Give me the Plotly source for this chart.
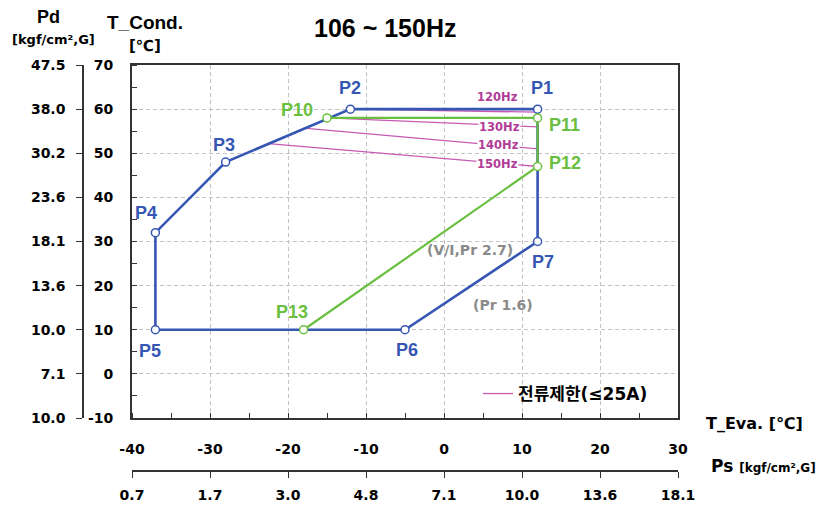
import plotly.graph_objects as go

# ---------------- data ----------------
t_cond_ticks = [-10, 0, 10, 20, 30, 40, 50, 60, 70]
pd_labels = ["10.0", "7.1", "10.0", "13.6", "18.1", "23.6", "30.2", "38.0", "47.5"]
t_eva_ticks = [-40, -30, -20, -10, 0, 10, 20, 30]
ps_labels = ["0.7", "1.7", "3.0", "4.8", "7.1", "10.0", "13.6", "18.1"]

blue_names = ["P1", "P2", "P3", "P4", "P5", "P6", "P7"]
blue_x = [12, -12, -28, -37, -37, -5, 12]
blue_y = [60, 60, 48, 32, 10, 10, 30]

green_names = ["P10", "P11", "P12", "P13"]
green_x = [-15, 12, 12, -18]
green_y = [58, 58, 47, 10]

hz_names = ["120Hz", "130Hz", "140Hz", "150Hz"]
hz_x0 = [-12, -15, -18, -22.5]
hz_y0 = [60, 58, 55.7, 52.2]
hz_x1 = [12, 12, 12, 12]
hz_y1 = [59.3, 56, 51, 47]

notes = ["(V/I,Pr 2.7)", "(Pr 1.6)"]
notes_x = [3.3, 7.5]
notes_y = [28, 15.5]

legend_name = "전류제한(≤25A)"

# ---------------- style ----------------
W, H = 830, 510
L, R, T, B = 20, 152, 65, 10
BLUE = "#3656b4"
GREEN = "#6abf40"
MAG = "#c85ab4"
MAGT = "#b03c98"
GRAY = "#8a8a8a"
AX = "#333333"
TF = dict(family="DejaVu Sans", size=14, color="black", weight="bold")
LF = "Liberation Sans, Arial, sans-serif"


def px(x):
    return (x - L) / (W - L - R)


def py(y):
    return (H - B - y) / (H - T - B)


label_shift = {
    "P1": (4, 21), "P2": (0, 21), "P3": (-2, 17), "P4": (-9, 20),
    "P5": (-5, -21), "P6": (2, -20), "P7": (5, -20),
    "P10": (-30, 8), "P11": (27, -7), "P12": (27, 3), "P13": (-12, 18),
}
hz_shift = [(-40, 15), (-38, 0), (-39, 4), (-40, 2)]

fig = go.Figure()

# current-limit lines (magenta)
for i, name in enumerate(hz_names):
    fig.add_trace(go.Scatter(
        x=[hz_x0[i], hz_x1[i]], y=[hz_y0[i], hz_y1[i]], mode="lines",
        line=dict(color=MAG, width=1.3), name=legend_name,
        showlegend=(i == 0), hoverinfo="skip"))

# blue envelope
fig.add_trace(go.Scatter(
    x=blue_x + [blue_x[0]], y=blue_y + [blue_y[0]], mode="lines",
    line=dict(color=BLUE, width=2.6), showlegend=False, hoverinfo="skip"))
# green envelope
fig.add_trace(go.Scatter(
    x=green_x, y=green_y, mode="lines",
    line=dict(color=GREEN, width=2.2), showlegend=False, hoverinfo="skip"))
# markers
fig.add_trace(go.Scatter(
    x=blue_x, y=blue_y, mode="markers",
    marker=dict(size=8, color="white", line=dict(color=BLUE, width=1.5)),
    showlegend=False, hoverinfo="skip"))
fig.add_trace(go.Scatter(
    x=green_x, y=green_y, mode="markers",
    marker=dict(size=8, color="white", line=dict(color=GREEN, width=1.5)),
    showlegend=False, hoverinfo="skip"))

# invisible trace for secondary axes
fig.add_trace(go.Scatter(
    x=[t_eva_ticks[0], t_eva_ticks[-1]], y=[t_cond_ticks[0], t_cond_ticks[-1]],
    xaxis="x2", yaxis="y2", mode="markers", marker=dict(opacity=0),
    showlegend=False, hoverinfo="skip"))

ann = []
for names, xs, ys, col in ((blue_names, blue_x, blue_y, BLUE),
                           (green_names, green_x, green_y, GREEN)):
    for n, x, y in zip(names, xs, ys):
        dx, dy = label_shift[n]
        ann.append(dict(x=x, y=y, text=n, showarrow=False, xshift=dx, yshift=dy,
                        font=dict(family=LF, size=18, color=col, weight="bold")))

for i, n in enumerate(hz_names):
    dx, dy = hz_shift[i]
    ann.append(dict(x=hz_x1[i], y=hz_y1[i], text=n, showarrow=False, xshift=dx,
                    yshift=dy, bgcolor="white" if i else "rgba(0,0,0,0)", borderpad=0,
                    font=dict(family="DejaVu Sans", size=11.5, color=MAGT, weight="bold")))

for n, x, y in zip(notes, notes_x, notes_y):
    ann.append(dict(x=x, y=y, text=n, showarrow=False,
                    font=dict(family="DejaVu Sans", size=14, color=GRAY, weight="bold")))

# title & axis labels (paper coords)
def pa(x, y, text, size, family=LF, xanchor="center"):
    ann.append(dict(xref="paper", yref="paper", x=px(x), y=py(y), text=text,
                    showarrow=False, xanchor=xanchor, yanchor="middle",
                    font=dict(family=family, size=size, color="black", weight="bold")))

pa(385, 28, "106 ~ 150Hz", 25)
pa(48, 17, "Pd", 18)
pa(53, 39, "[kgf/cm²,G]", 13, family="DejaVu Sans")
pa(145, 22, "T_Cond.", 19)
pa(145, 46, "[℃]", 15, family="DejaVu Sans")
pa(704, 423, "T_Eva. [℃]", 16, family="DejaVu Sans", xanchor="left")
pa(709, 466, "Ps <span style='font-size:12px'>[kgf/cm²,G]</span>", 17,
   family="DejaVu Sans", xanchor="left")

grid = dict(showgrid=True, gridcolor="#c4c4c4", griddash="4px,3px", gridwidth=1,
            zeroline=False, showline=True, mirror=True, linecolor=AX, linewidth=2,
            ticks="", tickfont=TF, automargin=False)

fig.update_layout(
    width=W, height=H, margin=dict(l=L, r=R, t=T, b=B, autoexpand=False),
    paper_bgcolor="white", plot_bgcolor="white",
    xaxis=dict(domain=[px(132), 1], range=[-40, 30], tickvals=t_eva_ticks,
               ticktext=[str(v) for v in t_eva_ticks],
               ticklabelstandoff=17,
               minor=dict(ticks="inside", ticklen=5, tickcolor=AX, dtick=5,
                          tick0=-35, showgrid=False), **grid),
    yaxis=dict(domain=[py(418), 1], range=[-10, 70], tickvals=t_cond_ticks,
               ticktext=[str(v) for v in t_cond_ticks],
               ticklabelstandoff=14,
               minor=dict(ticks="inside", ticklen=5, tickcolor=AX, dtick=5,
                          tick0=-5, showgrid=False), **grid),
    xaxis2=dict(overlaying="x", anchor="free", position=py(471), side="bottom",
                range=[-40, 30], tickvals=t_eva_ticks, ticktext=ps_labels,
                showline=True, linecolor=AX, linewidth=1.5, ticks="outside",
                ticklen=6, tickcolor=AX, showgrid=False, zeroline=False,
                tickfont=TF, automargin=False, ticklabelstandoff=5),
    yaxis2=dict(overlaying="y", anchor="free", position=px(83), side="left",
                range=[-10, 70], tickvals=t_cond_ticks, ticktext=pd_labels,
                showline=True, linecolor=AX, linewidth=1.5, ticks="outside",
                ticklen=6, tickcolor=AX, showgrid=False, zeroline=False,
                tickfont=TF, automargin=False, ticklabelstandoff=8),
    legend=dict(x=px(478), y=py(394), xanchor="left", yanchor="middle",
                bgcolor="rgba(0,0,0,0)", borderwidth=0,
                font=dict(family="DejaVu Sans, Noto Sans CJK KR", size=17,
                          color="black", weight="bold")),
    annotations=ann,
)

fig.write_html("out.html")
